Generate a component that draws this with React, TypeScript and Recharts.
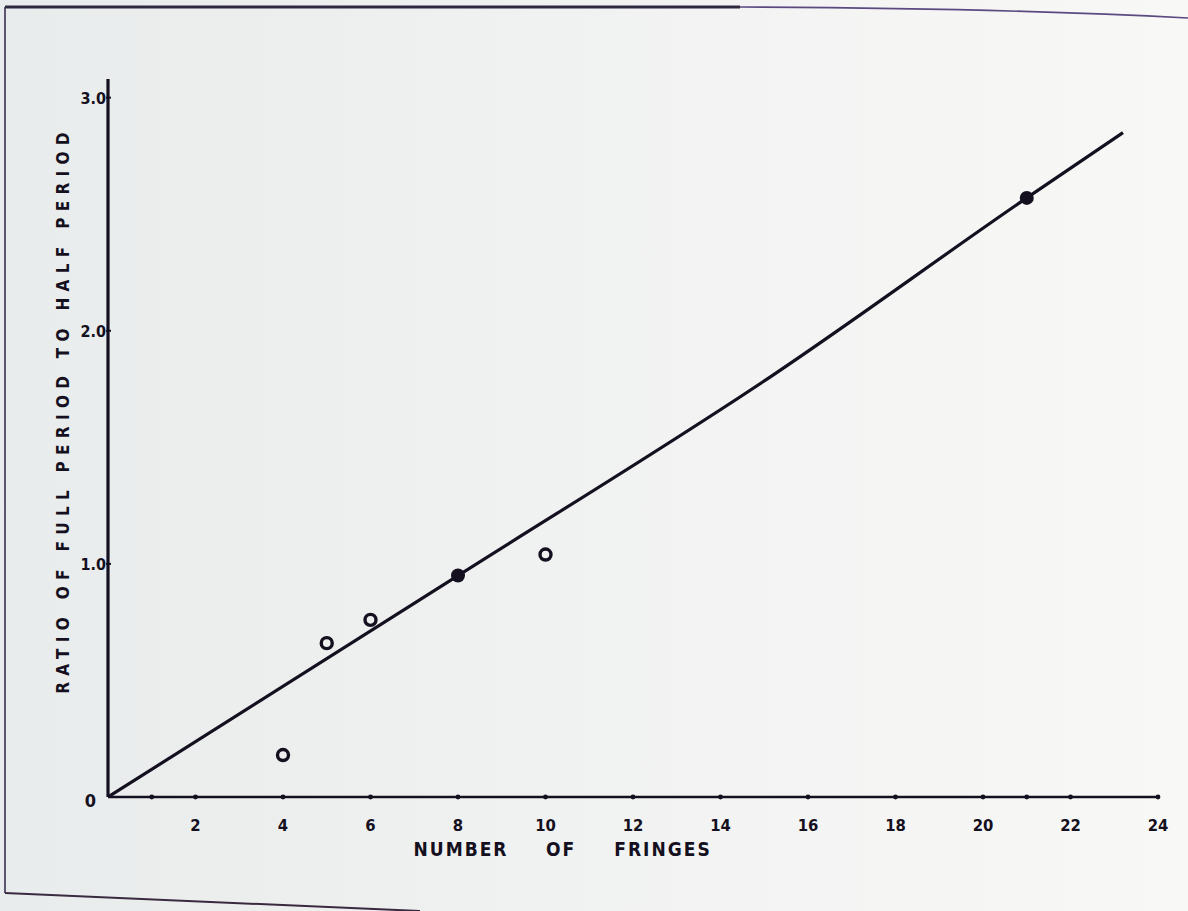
import React from 'react';
import { ComposedChart, Line, Scatter, XAxis, YAxis, Label } from 'recharts';

// ---- data ----
const xTicks = [2, 4, 6, 8, 10, 12, 14, 16, 18, 20, 22, 24];
const xMinorTicks = [1, 21];
const yTicks = [0, 1, 2, 3];
const yTickLabels = ['0', '1.0', '2.0', '3.0'];

const fitX = [0, 8, 15.2, 21, 23.2];
const fitY = [0, 0.95, 1.81, 2.57, 2.85];

const openX = [4, 5, 6, 10];
const openY = [0.18, 0.66, 0.76, 1.04];

const filledX = [8, 21];
const filledY = [0.95, 2.57];

const xTitleWords = ['NUMBER', 'OF', 'FRINGES'];
const yTitle = 'RATIO OF FULL PERIOD TO HALF PERIOD';

const fitData = fitX.map((x, i) => ({ x, y: fitY[i] }));
const openData = openX.map((x, i) => ({ x, y: openY[i] }));
const filledData = filledX.map((x, i) => ({ x, y: filledY[i] }));
const allXTicks = [...xMinorTicks, ...xTicks].sort((a, b) => a - b);

const INK = '#141020';
const FONT = '"DejaVu Sans Condensed", "DejaVu Sans", sans-serif';

const XTick = (props: any) => {
  const { x, y, payload } = props;
  const minor = xMinorTicks.includes(payload.value);
  return (
    <g>
      <circle cx={x} cy={y} r={2.4} fill={INK} />
      {!minor && (
        <text x={x} y={y + 34} textAnchor="middle" fontFamily={FONT} fontWeight="bold" fontSize={16.5} fill={INK}>
          {payload.value}
        </text>
      )}
    </g>
  );
};

const YTick = (props: any) => {
  const { x, y, payload } = props;
  const idx = yTicks.indexOf(payload.value);
  const isZero = payload.value === 0;
  return (
    <g>
      {!isZero && <line x1={x - 2} x2={x + 3} y1={y} y2={y} stroke={INK} strokeWidth={2} />}
      <text
        x={isZero ? x - 12 : x - 2}
        y={isZero ? y + 10 : y + 6}
        textAnchor="end"
        fontFamily={FONT}
        fontWeight="bold"
        fontSize={isZero ? 18 : 16}
        fill={INK}
      >
        {yTickLabels[idx]}
      </text>
    </g>
  );
};

const OpenCircle = (props: any) => {
  const { cx, cy } = props;
  return <circle cx={cx} cy={cy} r={5.5} fill="none" stroke={INK} strokeWidth={3.4} />;
};

const FilledCircle = (props: any) => {
  const { cx, cy } = props;
  return <circle cx={cx} cy={cy} r={7} fill={INK} />;
};

const XTitle = (props: any) => {
  const { viewBox } = props;
  const cx = viewBox.x + viewBox.width / 2;
  const y = viewBox.y + 59;
  const offsets = [-172, -72, 30];
  return (
    <g>
      {xTitleWords.map((w, i) => (
        <text
          key={w}
          x={cx + offsets[i]}
          y={y}
          textAnchor="middle"
          fontFamily={FONT}
          fontWeight="bold"
          fontSize={19}
          letterSpacing={2}
          fill={INK}
        >
          {w}
        </text>
      ))}
    </g>
  );
};

const YTitle = (props: any) => {
  const { viewBox } = props;
  const x = 63;
  const y = viewBox.y + viewBox.height / 2 - 28;
  return (
    <text
      x={x}
      y={y}
      transform={`rotate(-90, ${x}, ${y})`}
      textAnchor="middle"
      dominantBaseline="central"
      fontFamily={FONT}
      fontWeight="bold"
      fontSize={17}
      letterSpacing={6.3}
      fill={INK}
    >
      {yTitle}
    </text>
  );
};

export default function App() {
  return (
    <div
      style={{
        position: 'absolute',
        left: 0,
        top: 0,
        width: 1188,
        height: 911,
        overflow: 'hidden',
        background: 'linear-gradient(90deg, #e9ecec 0%, #f0f1f1 45%, #f8f8f6 100%)',
      }}
    >
      <svg width={1188} height={911} style={{ position: 'absolute', left: 0, top: 0 }}>
        <line x1={5} y1={7} x2={740} y2={7} stroke="#2e2840" strokeWidth={3} />
        <path d="M 740 7 Q 1000 8 1188 18" fill="none" stroke="#5a4a80" strokeWidth={1.6} />
        <line x1={5} y1={7} x2={5} y2={893} stroke="#3a3050" strokeWidth={1.6} />
        <line x1={5} y1={893} x2={420} y2={911} stroke="#3a2a40" strokeWidth={2} />
      </svg>
      <div style={{ position: 'absolute', left: 0, top: 0 }}>
        <ComposedChart
          width={1188}
          height={911}
          margin={{ top: 79, right: 30, bottom: 54, left: 48 }}
        >
          <XAxis
            type="number"
            dataKey="x"
            domain={[0, 24]}
            ticks={allXTicks}
            interval={0}
            height={60}
            tickSize={0}
            tickMargin={0}
            tickLine={false}
            axisLine={{ stroke: INK, strokeWidth: 2.6 }}
            tick={<XTick />}
            allowDataOverflow
          >
            <Label content={<XTitle />} />
          </XAxis>
          <YAxis
            type="number"
            dataKey="y"
            domain={[0, 3.08]}
            ticks={yTicks}
            interval={0}
            width={60}
            tickSize={0}
            tickMargin={0}
            tickLine={false}
            axisLine={{ stroke: INK, strokeWidth: 3.2 }}
            tick={<YTick />}
            allowDataOverflow
          >
            <Label content={<YTitle />} />
          </YAxis>
          <Line
            data={fitData}
            dataKey="y"
            type="monotone"
            stroke={INK}
            strokeWidth={3.2}
            dot={false}
            activeDot={false}
            isAnimationActive={false}
          />
          <Scatter data={openData} dataKey="y" shape={<OpenCircle />} isAnimationActive={false} />
          <Scatter data={filledData} dataKey="y" shape={<FilledCircle />} isAnimationActive={false} />
        </ComposedChart>
      </div>
    </div>
  );
}
